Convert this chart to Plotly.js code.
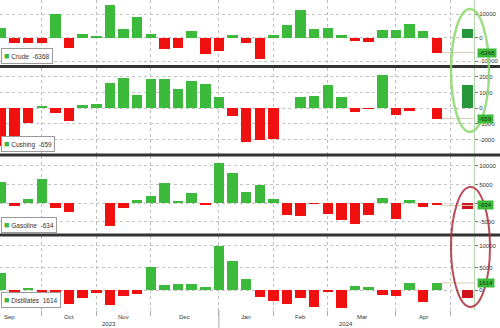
<!DOCTYPE html>
<html><head><meta charset="utf-8">
<script src="https://cdn.plot.ly/plotly-3.0.1.min.js"></script>
<style>html,body{margin:0;padding:0;background:#fff}#c{width:500px;height:328px}</style>
</head><body><div id="c"></div>
<script>
// ---- data (thousand barrels, weekly change) ----
const weekDates = ['2023-09-15','2023-09-22','2023-09-29','2023-10-06','2023-10-13','2023-10-20','2023-10-27',
 '2023-11-03','2023-11-10','2023-11-17','2023-11-24','2023-12-01','2023-12-08','2023-12-15','2023-12-22','2023-12-29',
 '2024-01-05','2024-01-12','2024-01-19','2024-01-26','2024-02-02','2024-02-09','2024-02-16','2024-02-23',
 '2024-03-01','2024-03-08','2024-03-15','2024-03-22','2024-03-29','2024-04-05','2024-04-12','2024-04-19','2024-04-26'];
const seriesNames = ['Crude','Cushing','Gasoline','Distillates'];
const crude = [3955,-2136,-2170,-2224,10176,-4491,1372,774,13900,3592,8701,1609,-4633,-4259,2909,-6900,-5503,1338,-2300,-9233,
 1233,5520,12018,3514,4199,1367,-1536,-1952,3165,3210,5841,2735,-6368];
const cushing = [-2400,-1860,-940,130,-320,-790,190,280,1600,1950,860,1880,1840,1240,1710,1520,710,-510,-2140,-2010,
 -1970,30,710,750,1460,710,-260,-30,2100,-410,-190,30,-659];
const gasoline = [5650,-720,1080,6450,-1300,-2330,60,-60,-6100,-1400,800,1790,5470,450,2700,-540,10900,8000,3100,5000,
 1080,-3140,-3580,-180,-2870,-4480,-5650,-3230,1250,-4300,720,-990,-634];
const distillates = [3960,-750,370,-900,-1640,-3140,-1720,-750,-3360,-1420,-970,5230,1120,1340,1340,670,10090,6500,2390,-1490,
 -2470,-3140,-1870,-3960,-520,-4110,900,600,-1120,-1270,1640,-2760,1614];
const latestApi = [3700, 1500, -1480, -1900];
const monthNames = ['Jan','Feb','Mar','Apr','May','Jun','Jul','Aug','Sep','Oct','Nov','Dec'];

// ---- layout / style ----
const W=500,H=328,ML=0,MR=26,MT=0,MB=18;
const plotH=H-MT-MB, plotW=W-ML-MR;
const py = p => 1-(p-MT)/plotH;
const xRange=[-0.07,34.73];
const latestSlot = weekDates.length + 1.25;
const panels = [
  {vals:crude, top:0, bot:66, range:[-12090,16110], ticks:[-10000,0,10000], hideZeroLabel:false},
  {vals:cushing, top:67.5, bot:154, range:[-2920,2600], ticks:[-2000,-1000,0,1000,2000], hideZeroLabel:false},
  {vals:gasoline, top:156, bot:234.5, range:[-8460,12690], ticks:[-5000,0,5000,10000], hideZeroLabel:true},
  {vals:distillates, top:236, bot:310, range:[-4545,12270], ticks:[0,5000,10000], hideZeroLabel:false}
];
const GREEN='#3cba3c', RED='#f01010', DGREEN='#28963a', DRED='#d0101c';

// month starts over axis slots
const d0=new Date(weekDates[0]+'T00:00:00Z');
const slotDate=i=>new Date(d0.getTime()+i*7*86400000);
const monthStarts=[];
for(let i=0;i<=Math.ceil(xRange[1]);i++){
  if(slotDate(i).getUTCMonth()!==slotDate(i-1).getUTCMonth()) monthStarts.push(i);
}
const slots = weekDates.map((d,i)=>i);

const traces=[]; const layout={
  width:W,height:H,margin:{l:ML,r:MR,t:MT,b:MB},paper_bgcolor:'#fff',plot_bgcolor:'#fff',
  showlegend:false,hovermode:false,bargap:0,
  font:{family:'Liberation Sans, Arial, sans-serif',size:6,color:'#333'},
  annotations:[],shapes:[]
};
panels.forEach((p,k)=>{
  const n=k+1, xa='x'+(n===1?'':n), ya='y'+(n===1?'':n);
  traces.push({type:'bar',x:slots,y:p.vals,width:0.77,xaxis:xa,yaxis:ya,
    marker:{color:p.vals.map(v=>v>=0?GREEN:RED),line:{width:0}}});
  const lv=latestApi[k];
  traces.push({type:'bar',x:[latestSlot],y:[lv],width:0.75,xaxis:xa,yaxis:ya,
    marker:{color:lv>=0?DGREEN:DRED,line:{width:0}}});
  const last=p.vals[p.vals.length-1];
  traces.push({type:'scatter',mode:'lines',x:[slots[slots.length-1]+0.385,xRange[1]],y:[last,last],
    xaxis:xa,yaxis:ya,line:{color:'#d6ccb0',width:1}});
  layout['xaxis'+(n===1?'':n)]={domain:[0,1],range:xRange,anchor:ya,showline:false,zeroline:false,
    tickmode:'array',tickvals:monthStarts,ticktext:monthStarts.map(()=>''),showgrid:true,
    gridcolor:'#bdbdbd',griddash:'dot',gridwidth:1,
    ticks:n===4?'outside':'',ticklen:5,tickcolor:'#aaa',showticklabels:false,fixedrange:true};
  if(n>1) layout['xaxis'+n].matches='x';
  layout['yaxis'+(n===1?'':n)]={domain:[py(p.bot),py(p.top)],range:p.range,anchor:xa,side:'right',
    tickmode:'array',tickvals:p.ticks,ticktext:p.ticks.map(t=>(t===0&&p.hideZeroLabel)?'':String(t)),
    showgrid:true,gridcolor:'#c4c4c4',griddash:'dot',
    zeroline:false,showline:true,linecolor:'#b5d6ac',linewidth:1,ticks:'outside',ticklen:3,tickcolor:'#777',
    tickfont:{size:6,color:'#333'},fixedrange:true};
  // legend box
  const name=seriesNames[k];
  layout.annotations.push({xref:'paper',yref:'paper',x:0,y:py(p.bot),xanchor:'left',yanchor:'bottom',
    yshift:2,xshift:1,text:'<span style="color:'+GREEN+';font-size:9px">■</span> '+name+'  '+last,showarrow:false,
    bgcolor:'#fff',bordercolor:'#9a9a9a',borderwidth:1,borderpad:2,font:{size:6.5,color:'#333'}});
  // last value tag
  layout.annotations.push({xref:'paper',yref:ya,x:1,y:last,xanchor:'left',yanchor:'middle',xshift:3,
    text:String(last),showarrow:false,bgcolor:GREEN,borderpad:1,font:{size:6,color:'#123812'}});
  // separator
  if(k>0) layout.shapes.push({type:'line',xref:'paper',yref:'paper',x0:0,x1:W/plotW,
    y0:py(p.top-1),y1:py(p.top-1),line:{color:'#333',width:3}});
});
// month labels
const monthLabelPos=[];
for(let j=0;j<monthStarts.length-1;j++) monthLabelPos.push({x:(monthStarts[j]+monthStarts[j+1])/2,
  t:monthNames[slotDate(monthStarts[j]).getUTCMonth()]});
layout.annotations.push({xref:'x4',yref:'paper',x:xRange[0],y:py(316.5),xanchor:'left',yanchor:'middle',xshift:2,
  text:monthNames[slotDate(0).getUTCMonth()],showarrow:false,font:{size:6,color:'#333'}});
monthLabelPos.forEach(m=>layout.annotations.push({xref:'x4',yref:'paper',x:m.x,y:py(316.5),yanchor:'middle',
  text:m.t,showarrow:false,font:{size:6,color:'#333'}}));
// years
const janSlot=monthStarts.find(i=>slotDate(i).getUTCMonth()===0);
layout.annotations.push({xref:'x4',yref:'paper',x:(xRange[0]+janSlot)/2,y:py(324),yanchor:'middle',
  text:String(slotDate(0).getUTCFullYear()),showarrow:false,font:{size:6,color:'#333'}});
layout.annotations.push({xref:'x4',yref:'paper',x:(janSlot+xRange[1])/2,y:py(324),yanchor:'middle',
  text:String(slotDate(janSlot).getUTCFullYear()),showarrow:false,font:{size:6,color:'#333'}});
layout.shapes.push({type:'line',xref:'x4',yref:'paper',x0:janSlot,x1:janSlot,y0:py(310),y1:py(328),
  line:{color:'#aaa',width:1}});
// highlight ellipses
layout.shapes.push({type:'circle',xref:'paper',yref:'paper',x0:451/plotW,x1:489/plotW,y0:py(132),y1:py(9),
  line:{color:'rgba(140,215,110,0.85)',width:2.5}});
layout.shapes.push({type:'circle',xref:'paper',yref:'paper',x0:451/plotW,x1:490/plotW,y0:py(307),y1:py(187),
  line:{color:'rgba(175,45,60,0.85)',width:2}});

Plotly.newPlot('c',traces,layout,{staticPlot:true,displayModeBar:false});
</script></body></html>
